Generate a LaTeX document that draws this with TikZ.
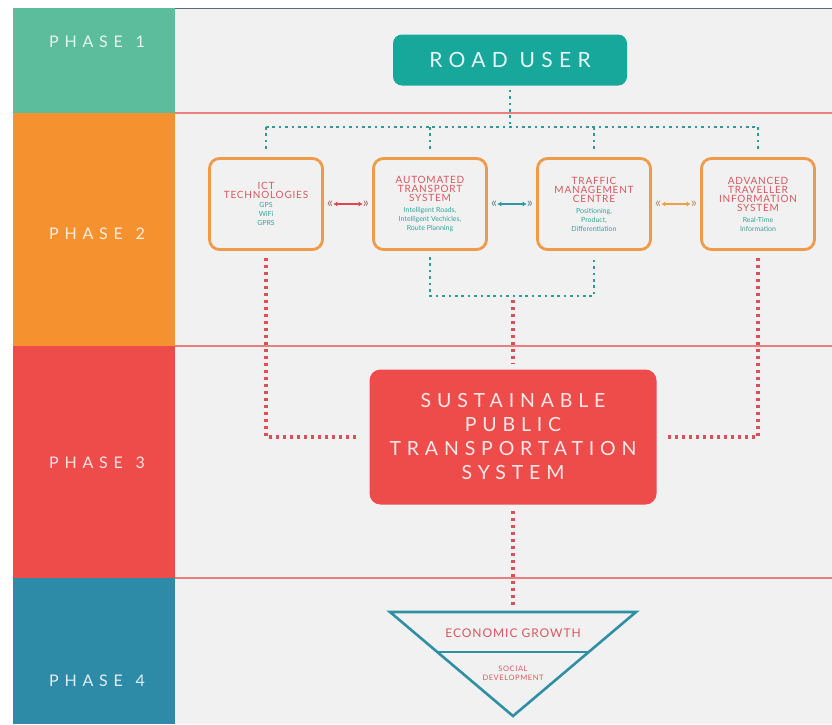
\documentclass[tikz,border=0pt]{standalone}
\usepackage{fontspec}
\setmainfont{Lato}
\newfontfamily\widefont[LetterSpace=30]{Lato}
\newfontfamily\phasefont[LetterSpace=36]{Lato}
\newfontfamily\unitfont[LetterSpace=8]{Lato}
\usetikzlibrary{arrows.meta,positioning,calc}

\definecolor{bgpanel}{HTML}{F1F1F1}
\definecolor{topline}{HTML}{5A6A78}
\definecolor{phaseA}{HTML}{5BBD9B}
\definecolor{phaseB}{HTML}{F5922F}
\definecolor{phaseC}{HTML}{EE4B4B}
\definecolor{phaseD}{HTML}{2E8BA8}
\definecolor{roadteal}{HTML}{17A79B}
\definecolor{rulered}{HTML}{E8807C}
\definecolor{unitorange}{HTML}{EF9A48}
\definecolor{titlered}{HTML}{D9575E}
\definecolor{subteal}{HTML}{35A39C}
\definecolor{dotteal}{HTML}{2E9C95}
\definecolor{dotred}{HTML}{D9505A}
\definecolor{trishade}{HTML}{2F8FA3}
\definecolor{arrred}{HTML}{E0464F}
\definecolor{arrteal}{HTML}{2F97A8}
\definecolor{arrorange}{HTML}{F0A040}

\newcommand{\ut}[1]{\textcolor{titlered}{\unitfont\fontsize{10}{10}\selectfont #1}}

\begin{document}
\begin{tikzpicture}[x=1pt,y=-1pt,
  phase/.style={font=\phasefont\fontsize{16}{16}\selectfont},
  unit/.style={draw=unitorange, line width=2.8pt, rounded corners=10pt, fill=bgpanel, minimum width=113pt, minimum height=91pt, inner sep=2pt, align=center, text=subteal, font=\fontsize{7}{9}\selectfont},
  chev/.style={font=\fontsize{14}{14}\selectfont, inner sep=0pt},
  bi/.style={{Latex[length=4pt,width=5pt]}-{Latex[length=4pt,width=5pt]}, line width=1.4pt},
  tealdots/.style={dotteal, line width=2.6pt, dash pattern=on 2.6pt off 3.8pt},
  reddots/.style={dotred, line width=3.4pt, dash pattern=on 3.4pt off 3.6pt},
]
\useasboundingbox (0,0) rectangle (832,724);
\fill[white] (0,0) rectangle (832,724);
\fill[bgpanel] (175,8) rectangle (832,724);
\draw[topline, line width=1pt] (175,8.5) -- (832,8.5);

% ---------- phase bands ----------
\foreach \ya/\yb/\c/\n/\yt in {8/113/phaseA/1/42, 113/346/phaseB/2/234, 346/578/phaseC/3/463, 578/724/phaseD/4/681}{
  \fill[\c] (13,\ya) rectangle (175,\yb);
  \node[phase, text=white!85!\c] (ph\n) at (97,\yt) {PHASE\hspace{0.8em}\n};
}
\foreach \y in {113,346,578}{ \draw[rulered, line width=1.2pt] (175,\y) -- (832,\y); }

% ---------- phase 1 ----------
\node[fill=roadteal, rounded corners=9pt, minimum width=234pt, minimum height=51pt, text=white!90!roadteal, font=\widefont\fontsize{21}{21}\selectfont] (road) at (510,60) {ROAD USER};

% ---------- phase 2 ----------
\node[unit] (ict) at (266,204) {\ut{ICT}\\\ut{TECHNOLOGIES}\\GPS\\WiFi\\GPRS};
\node[unit] (ats) at (430,204) {\ut{AUTOMATED}\\\ut{TRANSPORT}\\\ut{SYSTEM}\\[2pt]Intelligent Roads,\\Intelligent Vechicles,\\Route Planning};
\node[unit] (tmc) at (594,204) {\ut{TRAFFIC}\\\ut{MANAGEMENT}\\\ut{CENTRE}\\[2pt]Positioning,\\Product,\\Differentiation};
\node[unit] (adv) at (758,204) {\ut{ADVANCED}\\\ut{TRAVELLER}\\\ut{INFORMATION}\\\ut{SYSTEM}\\[2pt]Real-Time\\Information};

\foreach \a/\b/\c in {ict/ats/arrred, ats/tmc/arrteal, tmc/adv/arrorange}{
  \node[chev, text=\c!45!gray, right=3pt of \a] (\a-l) {«};
  \node[chev, text=\c!45!gray, left=3pt of \b] (\a-r) {»};
  \draw[bi, \c] (\a-l) -- (\a-r);
}

% road user feeds every unit
\coordinate (bus) at (510,127);
\draw[tealdots, shorten <=4pt] (road.south) -- (bus);
\draw[tealdots] (ict.north |- bus) -- (adv.north |- bus);
\foreach \u in {ict,ats,tmc,adv}{ \draw[tealdots, shorten >=8pt] (\u.north |- bus) -- (\u.north); }

% ---------- phase 3 ----------
\node[fill=phaseC, rounded corners=11pt, minimum width=287pt, minimum height=135pt, text=white!88!phaseC, align=center, font=\widefont\fontsize{19.5}{24}\selectfont] (spts) at (513,437) {SUSTAINABLE\\PUBLIC\\TRANSPORTATION\\SYSTEM};

\coordinate (join) at (513,296);
\draw[tealdots, shorten <=6pt, shorten >=6pt] (ats.south) |- (join) -| (tmc.south);
\draw[reddots, shorten <=4pt, shorten >=6pt] (join) -- (spts.north);
\draw[reddots, shorten <=7pt, shorten >=10pt] (ict.south) |- (spts.west);
\draw[reddots, shorten <=7pt, shorten >=10pt] (adv.south) |- (spts.east);

% ---------- phase 4 ----------
\coordinate (tl) at (390,612);
\coordinate (tr) at (636,612);
\coordinate (tip) at (513,716);
\coordinate (tritop) at (513,612);
\draw[trishade, line width=2.6pt] (tl) -- (tr) -- (tip) -- cycle;
\draw[trishade, line width=2.6pt] ($(tl)!0.385!(tip)$) -- ($(tr)!0.385!(tip)$);
\draw[reddots, shorten <=6pt, shorten >=4pt] (spts.south) -- (tritop);

\node[text=titlered, font=\unitfont\fontsize{12}{12}\selectfont] (econ) at (513,633) {ECONOMIC GROWTH};
\node[text=titlered, align=center, font=\unitfont\fontsize{7.5}{9}\selectfont] (social) at (513,673) {SOCIAL\\DEVELOPMENT};
\end{tikzpicture}
\end{document}
